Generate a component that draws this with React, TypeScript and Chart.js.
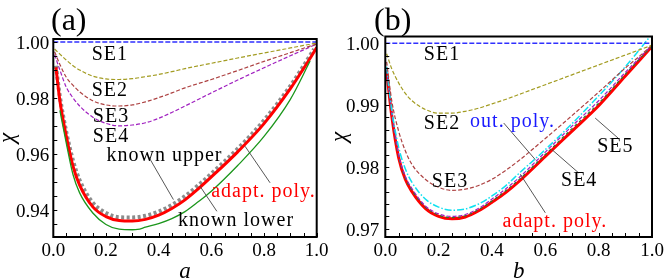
import React, { useEffect, useRef, useState } from "react";
import { Chart, registerables } from "chart.js";
Chart.register(...registerables);

const FONT = "'Liberation Serif'";

// ---------- Panel (a) ----------
const A_X_TICKS = [0, 0.2, 0.4, 0.6, 0.8, 1.0];
const A_Y_TICKS = [0.94, 0.96, 0.98, 1.0];
const A_Y_MIN = 0.9302;
const A_Y_MAX = 1.0011;

const A_SE1_X = [0, 1];
const A_SE1 = [1.0, 1.0];

const A_SE_X = [0.005, 0.025, 0.05, 0.075, 0.1, 0.15, 0.2, 0.25, 0.3, 0.35, 0.4, 0.45, 0.5, 0.6, 0.7, 0.8, 0.9, 0.95, 1.0];
const A_SE2 = [0.9975, 0.9957, 0.9935, 0.9915, 0.99, 0.9878, 0.9868, 0.9866, 0.9869, 0.9876, 0.9884, 0.9894, 0.9905, 0.9924, 0.9943, 0.9961, 0.9979, 0.9988, 0.9997];
const A_SE3 = [0.9965, 0.992, 0.9873, 0.9845, 0.9822, 0.979, 0.9775, 0.9771, 0.9775, 0.9786, 0.9801, 0.9818, 0.9836, 0.9866, 0.9898, 0.9931, 0.9962, 0.9978, 0.9993];
const A_SE4 = [0.9955, 0.99, 0.9837, 0.98, 0.9771, 0.9731, 0.9709, 0.97, 0.9703, 0.9711, 0.9727, 0.9748, 0.9771, 0.9818, 0.9864, 0.9908, 0.9951, 0.9972, 0.9993];

const A_RED_X = [0.01, 0.025, 0.05, 0.075, 0.1, 0.15, 0.2, 0.25, 0.3, 0.35, 0.4, 0.45, 0.5, 0.55, 0.6, 0.7, 0.8, 0.9, 0.95, 1.0];
const A_RED = [0.991, 0.979, 0.966, 0.9555, 0.9488, 0.941, 0.9375, 0.9361, 0.9359, 0.9365, 0.938, 0.9404, 0.9435, 0.9474, 0.9517, 0.9607, 0.9708, 0.9833, 0.9905, 0.998];

const A_UPPER_X = [0.01, 0.025, 0.05, 0.075, 0.1, 0.15, 0.2, 0.25, 0.3, 0.35, 0.4, 0.45, 0.5, 0.55, 0.6, 0.7, 0.8, 0.9, 0.95, 0.99];
const A_UPPER = [0.9915, 0.9805, 0.9675, 0.9575, 0.9505, 0.9425, 0.9388, 0.9373, 0.9372, 0.9378, 0.9393, 0.9417, 0.9448, 0.9487, 0.9529, 0.9618, 0.972, 0.9843, 0.9915, 0.9975];

const A_LOWER_X = [0.025, 0.05, 0.075, 0.1, 0.15, 0.2, 0.25, 0.3, 0.32, 0.35, 0.4, 0.45, 0.5, 0.55, 0.6, 0.7, 0.8, 0.9, 0.975];
const A_LOWER = [0.9755, 0.9635, 0.9525, 0.946, 0.9388, 0.9347, 0.933, 0.9328, 0.9329, 0.9337, 0.935, 0.9368, 0.9393, 0.9428, 0.9466, 0.9558, 0.9662, 0.9795, 0.9932];

// ---------- Panel (b) ----------
const B_X_TICKS = [0, 0.2, 0.4, 0.6, 0.8, 1.0];
const B_Y_TICKS = [0.97, 0.98, 0.99, 1.0];
const B_Y_MIN = 0.96866;
const B_Y_MAX = 1.0011;

const B_SE1_X = [0, 1];
const B_SE1 = [1.0, 1.0];

const B_X = [0.005, 0.025, 0.05, 0.075, 0.1, 0.15, 0.2, 0.25, 0.3, 0.35, 0.4, 0.45, 0.5, 0.6, 0.7, 0.8, 0.9, 0.95, 1.0];
const B_SE2 = [0.9983, 0.9958, 0.9936, 0.9919, 0.9907, 0.9893, 0.9887, 0.9887, 0.989, 0.9895, 0.9902, 0.9909, 0.9917, 0.9933, 0.9949, 0.9965, 0.9981, 0.9989, 0.9997];
const B_SE3 = [0.997, 0.9905, 0.9858, 0.9826, 0.9804, 0.978, 0.9767, 0.9762, 0.9764, 0.977, 0.978, 0.9794, 0.981, 0.9846, 0.9883, 0.9921, 0.996, 0.9978, 0.9997];
const B_OUT = [0.9962, 0.989, 0.9832, 0.9797, 0.9775, 0.9748, 0.9735, 0.973, 0.9732, 0.974, 0.9753, 0.9769, 0.9789, 0.9828, 0.987, 0.9915, 0.9962, 0.9988, 1.0015];
const B_SE4 = [0.9957, 0.9885, 0.982, 0.9785, 0.9765, 0.9737, 0.9724, 0.972, 0.9723, 0.9733, 0.9748, 0.9764, 0.9782, 0.9824, 0.9866, 0.9907, 0.9953, 0.9975, 0.9997];
const B_SE5 = [0.9956, 0.9882, 0.9817, 0.9782, 0.9762, 0.9735, 0.9722, 0.9718, 0.9721, 0.9731, 0.9745, 0.9761, 0.9779, 0.982, 0.9862, 0.9903, 0.995, 0.9973, 0.9996];
const B_RED = [0.9955, 0.988, 0.9815, 0.978, 0.976, 0.9733, 0.972, 0.9716, 0.9719, 0.9729, 0.9743, 0.9758, 0.9776, 0.9817, 0.9858, 0.9899, 0.9947, 0.9971, 0.9995];

type Label = { text: string; x: number; y: number; color: string };
type Leader = { x1: number; y1: number; x2: number; y2: number };

const A_LABELS: Label[] = [
  { text: "SE1", x: 0.215, y: 0.9962, color: "#000" },
  { text: "SE2", x: 0.215, y: 0.9831, color: "#000" },
  { text: "SE3", x: 0.219, y: 0.9738, color: "#000" },
  { text: "SE4", x: 0.219, y: 0.9666, color: "#000" },
  { text: "known upper", x: 0.422, y: 0.9598, color: "#000" },
  { text: "adapt. poly.", x: 0.798, y: 0.9472, color: "#ff0000" },
  { text: "known lower", x: 0.694, y: 0.9368, color: "#000" },
];
const A_LEADERS: Leader[] = [
  { x1: 0.361, y1: 0.9591, x2: 0.456, y2: 0.9436 },
  { x1: 0.728, y1: 0.9627, x2: 0.823, y2: 0.9496 },
  { x1: 0.557, y1: 0.9484, x2: 0.621, y2: 0.9394 },
];

const B_LABELS: Label[] = [
  { text: "SE1", x: 0.2126, y: 0.99844, color: "#000" },
  { text: "SE2", x: 0.2126, y: 0.98723, color: "#000" },
  { text: "out. poly.", x: 0.477, y: 0.98763, color: "#1a1aff" },
  { text: "SE3", x: 0.2426, y: 0.97795, color: "#000" },
  { text: "SE5", x: 0.8624, y: 0.9836, color: "#000" },
  { text: "SE4", x: 0.727, y: 0.97811, color: "#000" },
  { text: "adapt. poly.", x: 0.636, y: 0.97134, color: "#ff0000" },
];
const B_LEADERS: Leader[] = [
  { x1: 0.444, y1: 0.9871, x2: 0.5624, y2: 0.98118 },
  { x1: 0.625, y1: 0.98279, x2: 0.725, y2: 0.97903 },
  { x1: 0.787, y1: 0.9879, x2: 0.8725, y2: 0.98468 },
  { x1: 0.506, y1: 0.97882, x2: 0.6, y2: 0.97258 },
];

const pts = (xs: number[], ys: number[]) => xs.map((x, i) => ({ x, y: ys[i] }));

function line(label: string, xs: number[], ys: number[], color: string, width: number, dash: number[], order: number) {
  return {
    label,
    data: pts(xs, ys),
    borderColor: color,
    backgroundColor: color,
    borderWidth: width,
    borderDash: dash,
    borderCapStyle: "butt" as const,
    pointRadius: 0,
    cubicInterpolationMode: "monotone" as const,
    fill: false,
    clip: 0,
    order,
  };
}

type PanelCfg = {
  title: string;
  axisLetter: string;
  xTicks: number[];
  yTicks: number[];
  yMin: number;
  yMax: number;
  yDigits: number;
  yMinorStep: number;
  yLabelPad: number;
  padTop: number;
  padRight: number;
  labels: Label[];
  leaders: Leader[];
  datasets: any[];
  titleX: number;
};

const PANEL_A: PanelCfg = {
  title: "(a)",
  axisLetter: "a",
  xTicks: A_X_TICKS,
  yTicks: A_Y_TICKS,
  yMin: A_Y_MIN,
  yMax: A_Y_MAX,
  yDigits: 2,
  yMinorStep: 0.005,
  yLabelPad: 4,
  padTop: 39,
  padRight: 15.3,
  labels: A_LABELS,
  leaders: A_LEADERS,
  titleX: 51,
  datasets: [
    line("SE1", A_SE1_X, A_SE1, "#3030ff", 1.6, [5, 2], 1),
    line("SE2", A_SE_X, A_SE2, "#a39c22", 1.2, [4, 2], 2),
    line("SE3", A_SE_X, A_SE3, "#ad4242", 1.2, [4, 2], 3),
    line("SE4", A_SE_X, A_SE4, "#a020c0", 1.2, [4, 2], 4),
    line("known lower", A_LOWER_X, A_LOWER, "#1c961c", 1.3, [], 5),
    line("adapt. poly.", A_RED_X, A_RED, "#ff0000", 3, [], 6),
    line("known upper", A_UPPER_X, A_UPPER, "#8c8c8c", 4, [3, 2.5], 7),
  ],
};

const PANEL_B: PanelCfg = {
  title: "(b)",
  axisLetter: "b",
  xTicks: B_X_TICKS,
  yTicks: B_Y_TICKS,
  yMin: B_Y_MIN,
  yMax: B_Y_MAX,
  yDigits: 2,
  yMinorStep: 0.002,
  yLabelPad: 6,
  padTop: 36.5,
  padRight: 12,
  labels: B_LABELS,
  leaders: B_LEADERS,
  titleX: 42,
  datasets: [
    line("SE1", B_SE1_X, B_SE1, "#3030ff", 1.6, [5, 2], 1),
    line("SE2", B_X, B_SE2, "#a39c22", 1.2, [4, 2], 2),
    line("SE3", B_X, B_SE3, "#ad4242", 1.2, [4, 2], 3),
    line("out. poly.", B_X, B_OUT, "#10e0f0", 1.5, [7, 2, 1.5, 2], 4),
    line("SE4", B_X, B_SE4, "#a020c0", 1.2, [4, 2], 5),
    line("SE5", B_X, B_SE5, "#2a7a2a", 1.2, [3, 3], 6),
    line("adapt. poly.", B_X, B_RED, "#ff0000", 3, [], 7),
  ],
};

function makeDecor(cfg: PanelCfg) {
  return {
    id: "decor",
    afterDraw(chart: any) {
      const { ctx, chartArea: ca } = chart;
      const xs = chart.scales.x;
      const ys = chart.scales.y;
      ctx.save();
      ctx.strokeStyle = "#000";
      ctx.lineWidth = 1;
      const nY = Math.round((cfg.yMax - cfg.yMin) / cfg.yMinorStep) + 2;
      const yStart = Math.ceil(cfg.yMin / cfg.yMinorStep) * cfg.yMinorStep;
      for (let i = 0; i < nY; i++) {
        const v = yStart + i * cfg.yMinorStep;
        if (v > cfg.yMax) break;
        const py = Math.round(ys.getPixelForValue(v)) + 0.5;
        ctx.beginPath();
        ctx.moveTo(ca.left, py);
        ctx.lineTo(ca.left + 4, py);
        ctx.stroke();
      }
      for (let i = 0; i <= 20; i++) {
        const px = Math.round(xs.getPixelForValue(i * 0.05)) + 0.5;
        ctx.beginPath();
        ctx.moveTo(px, ca.bottom);
        ctx.lineTo(px, ca.bottom - 4);
        ctx.stroke();
      }
      ctx.lineWidth = 2;
      ctx.strokeRect(ca.left, ca.top, ca.right - ca.left, ca.bottom - ca.top);
      ctx.strokeStyle = "#444";
      ctx.lineWidth = 0.9;
      for (const l of cfg.leaders) {
        ctx.beginPath();
        ctx.moveTo(xs.getPixelForValue(l.x1), ys.getPixelForValue(l.y1));
        ctx.lineTo(xs.getPixelForValue(l.x2), ys.getPixelForValue(l.y2));
        ctx.stroke();
      }
      ctx.restore();
    },
  };
}

function buildChart(canvas: HTMLCanvasElement, cfg: PanelCfg) {
  return new Chart(canvas, {
    type: "line",
    data: { datasets: cfg.datasets },
    options: {
      responsive: false,
      animation: false,
      events: [],
      layout: { padding: { top: cfg.padTop, right: cfg.padRight, left: 0, bottom: 0 } },
      plugins: { legend: { display: false }, tooltip: { enabled: false }, title: { display: false } },
      scales: {
        x: {
          type: "linear",
          min: 0,
          max: 1,
          afterBuildTicks: (s: any) => {
            s.ticks = cfg.xTicks.map((v) => ({ value: v }));
          },
          afterFit: (s: any) => {
            s.height = 41;
          },
          ticks: { display: false },
          grid: { display: false, drawTicks: false },
          border: { display: false },
        },
        y: {
          type: "linear",
          min: cfg.yMin,
          max: cfg.yMax,
          afterBuildTicks: (s: any) => {
            s.ticks = cfg.yTicks.map((v) => ({ value: v }));
          },
          afterFit: (s: any) => {
            s.width = 53.3;
          },
          ticks: { display: false },
          grid: { display: false, drawTicks: false },
          border: { display: false },
        },
      },
    },
    plugins: [makeDecor(cfg)],
  } as any);
}

type TextItem = {
  text: string;
  x: number;
  y: number;
  size: number;
  color: string;
  italic?: boolean;
  tx: string;
  spacing?: number;
};

function Panel({ cfg, left }: { cfg: PanelCfg; left: number }) {
  const ref = useRef<HTMLCanvasElement>(null);
  const [texts, setTexts] = useState<TextItem[]>([]);
  useEffect(() => {
    const chart = buildChart(ref.current as HTMLCanvasElement, cfg);
    const xs: any = chart.scales.x;
    const ys: any = chart.scales.y;
    const ca = chart.chartArea;
    const items: TextItem[] = [];
    cfg.xTicks.forEach((v) =>
      items.push({ text: v.toFixed(1), x: xs.getPixelForValue(v), y: ca.bottom + 12, size: 19, color: "#000", tx: "translate(-50%,-50%)" })
    );
    cfg.yTicks.forEach((v) =>
      items.push({ text: v.toFixed(cfg.yDigits), x: ca.left - cfg.yLabelPad, y: ys.getPixelForValue(v), size: 19, color: "#000", tx: "translate(-100%,-50%)" })
    );
    cfg.labels.forEach((t) =>
      items.push({ text: t.text, x: xs.getPixelForValue(t.x), y: ys.getPixelForValue(t.y), size: 20, color: t.color, tx: "translate(-50%,-50%)", spacing: 1 })
    );
    items.push({ text: cfg.title, x: cfg.titleX, y: 19, size: 32, color: "#000", tx: "translate(0,-50%)" });
    items.push({ text: cfg.axisLetter, x: (ca.left + ca.right) / 2, y: 270, size: 23, italic: true, color: "#000", tx: "translate(-50%,-50%)" });
    items.push({ text: "\u03c7", x: 6, y: (ca.top + ca.bottom) / 2, size: 23, italic: true, color: "#000", tx: "translate(-50%,-50%) rotate(-90deg)" });
    setTexts(items);
    return () => chart.destroy();
  }, []);
  return (
    <div style={{ position: "absolute", left, top: 0, width: 332, height: 278 }}>
      <canvas ref={ref} width={332} height={278} style={{ position: "absolute", left: 0, top: 0, width: 332, height: 278 }} />
      {texts.map((t, i) => (
        <span
          key={i}
          style={{
            position: "absolute",
            left: t.x,
            top: t.y,
            transform: t.tx,
            fontFamily: FONT,
            fontSize: t.size,
            fontStyle: t.italic ? "italic" : "normal",
            color: t.color,
            lineHeight: 1,
            whiteSpace: "nowrap",
            letterSpacing: t.spacing ? `${t.spacing}px` : "normal",
          }}
        >
          {t.text}
        </span>
      ))}
    </div>
  );
}

export default function App() {
  return (
    <div style={{ position: "absolute", left: 0, top: 0, width: 664, height: 278, background: "#fff", overflow: "hidden" }}>
      <Panel cfg={PANEL_A} left={0} />
      <Panel cfg={PANEL_B} left={332} />
    </div>
  );
}
